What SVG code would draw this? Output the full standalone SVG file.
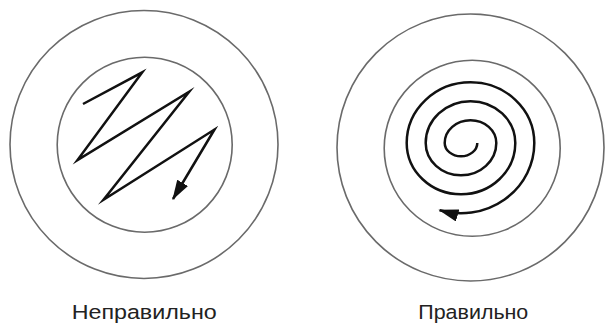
<svg xmlns="http://www.w3.org/2000/svg" width="606" height="324" viewBox="0 0 606 324">
<style>
.ring{fill:none;stroke:#6a6a6a;stroke-width:1.6}
.path{fill:none;stroke:#111;stroke-width:2.5;stroke-linejoin:miter;stroke-miterlimit:6}
.label{font-family:"Liberation Sans",Arial,sans-serif;font-size:20.5px;fill:#222;text-anchor:middle}
</style>
<defs>
<marker id="arrow" viewBox="0 0 16 10" refX="15" refY="5" markerWidth="8" markerHeight="5" orient="auto">
<path d="M0,0 L16,5 L0,10 z" fill="#111"/>
</marker>
</defs>
<rect width="606" height="324" fill="#fff"/>
<g id="wrong">
<circle class="ring" cx="144" cy="144.5" r="134"/>
<circle class="ring" cx="144.7" cy="144.7" r="87.5"/>
<polyline class="path" marker-end="url(#arrow)" points="83,104 142.3,72.3 77.5,160 189.2,91.8 103.5,199.8 214.5,129.5 173,199"/>
<text class="label" x="144.2" y="319.3" textLength="145" lengthAdjust="spacingAndGlyphs">Неправильно</text>
</g>
<g id="right">
<circle class="ring" cx="470.5" cy="147.5" r="133.5"/>
<circle class="ring" cx="472.2" cy="148.3" r="88"/>
<path class="path" marker-end="url(#arrow)" d="M477.3,143 A16.3,13.3 0 0 1 444.7,143 A25.8,22.8 0 0 1 496.3,143 A35.3,32.3 0 0 1 425.7,143 A44.8,41.8 0 0 1 515.3,143 A54.3,51.3 0 0 1 406.7,143 A63.8,60.8 0 0 1 534.3,143 A73.3,70.3 0 0 1 439.6,210.2"/>
<text class="label" x="473.3" y="319.3" textLength="110" lengthAdjust="spacingAndGlyphs">Правильно</text>
</g>
</svg>
